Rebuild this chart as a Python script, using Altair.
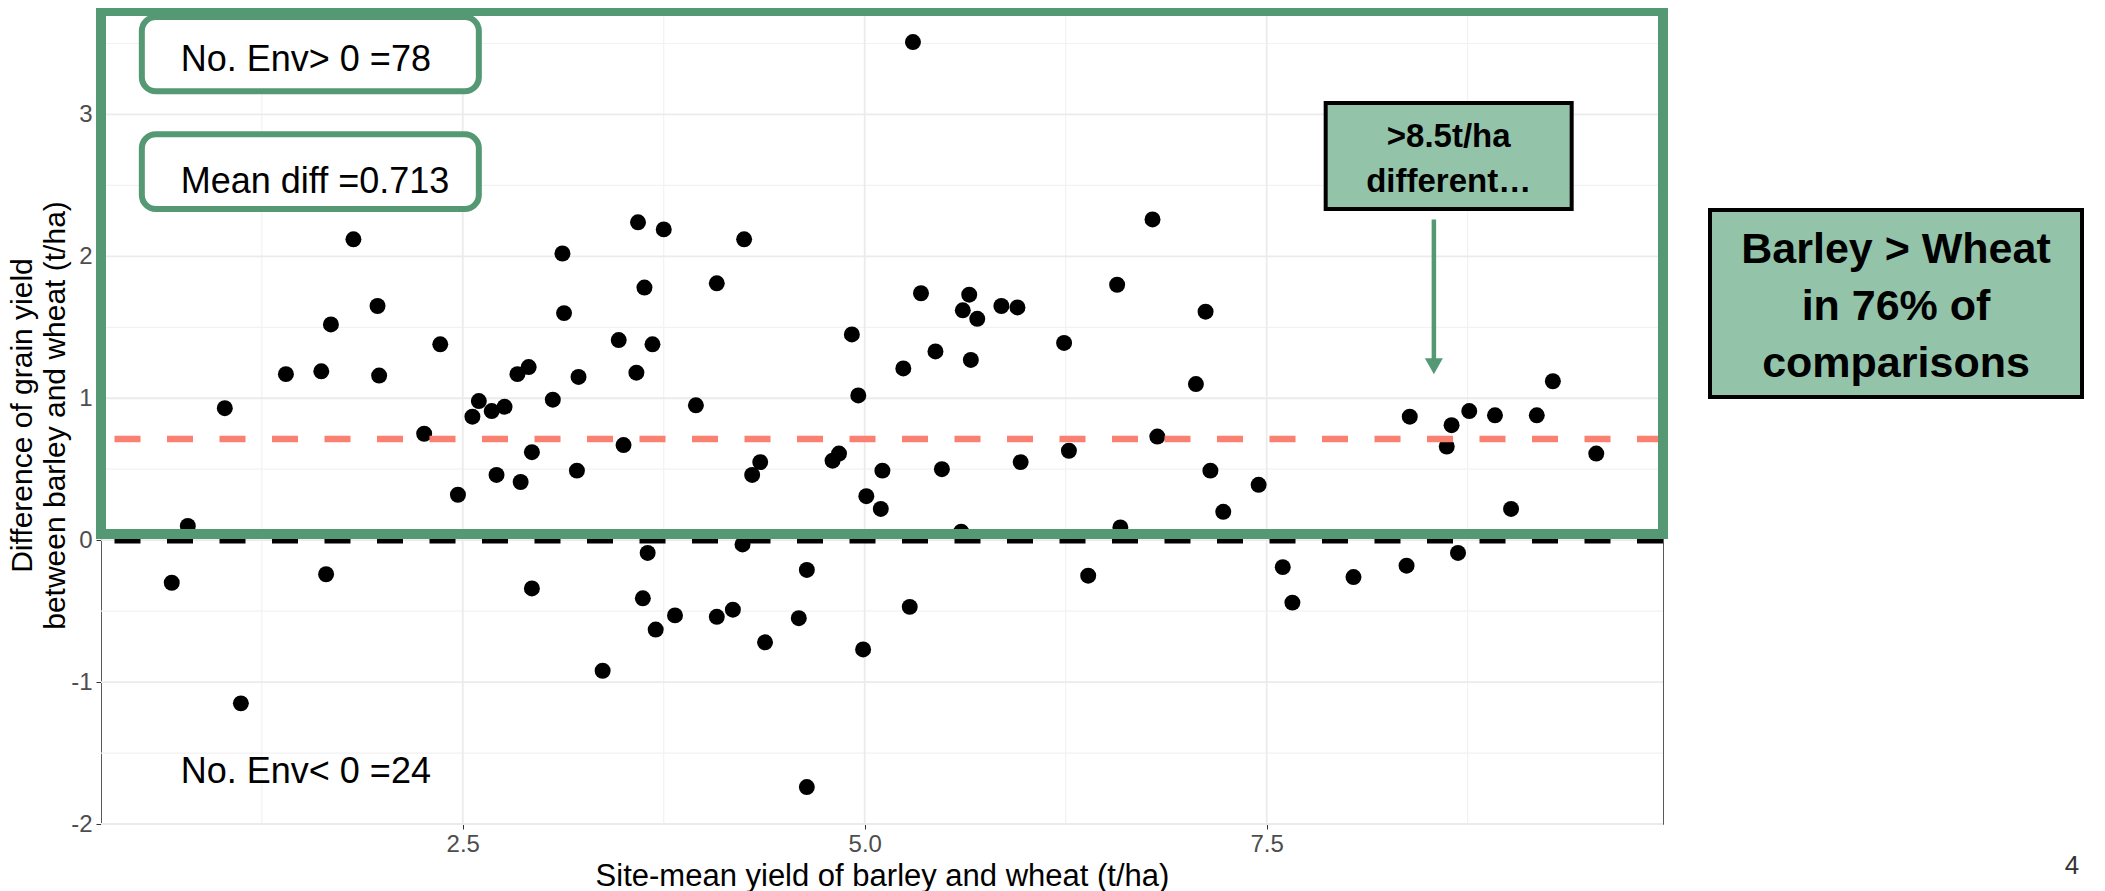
import altair as alt
import pandas as pd

# ---------------- data ----------------
site_mean = [
    0.79, 1.02, 1.40, 1.62, 1.68, 1.82, 1.97, 1.98, 2.26, 2.36,
    2.47, 2.56, 2.60, 2.68, 2.71, 2.76, 2.84, 2.86, 2.91, 2.93,
    3.06, 3.12, 3.13, 3.21, 3.22, 3.47, 3.50, 3.58, 3.59, 3.63,
    3.68, 3.75, 3.95, 4.08, 4.25, 4.30, 4.35, 4.80, 4.84, 4.92,
    4.96, 5.01, 5.10, 5.11, 5.24, 5.30, 5.35, 5.44, 5.48, 5.60,
    5.61, 5.65, 5.66, 5.70, 5.85, 5.95, 5.97, 6.24, 6.27, 6.57,
    6.59, 6.79, 6.82, 7.06, 7.12, 7.15, 7.23, 7.45, 8.39, 8.62,
    8.65, 8.76, 8.92, 9.02, 9.18, 9.28, 9.55,
    0.69, 1.12, 1.65, 2.93, 3.37, 3.62, 3.65, 3.70, 3.82, 4.08,
    4.18, 4.24, 4.38, 4.59, 4.64, 4.64, 4.99, 5.28, 6.39, 7.60,
    7.66, 8.04, 8.37, 8.69,
]
yield_diff = [
    0.10, 0.93, 1.17, 1.19, 1.52, 2.12, 1.65, 1.16, 0.75, 1.38,
    0.32, 0.87, 0.98, 0.91, 0.46, 0.94, 1.17, 0.41, 1.22, 0.62,
    0.99, 2.02, 1.60, 0.49, 1.15, 1.41, 0.67, 1.18, 2.24, 1.78,
    1.38, 2.19, 0.95, 1.81, 2.12, 0.46, 0.55, 0.56, 0.61, 1.45,
    1.02, 0.31, 0.22, 0.49, 1.21, 3.51, 1.74, 1.33, 0.50, 0.06,
    1.62, 1.73, 1.27, 1.56, 1.65, 1.64, 0.55, 1.39, 0.63, 1.80,
    0.09, 2.26, 0.73, 1.10, 1.61, 0.49, 0.20, 0.39, 0.87, 0.66,
    0.81, 0.91, 0.88, 0.22, 0.88, 1.12, 0.61,
    -0.30, -1.15, -0.24, -0.34, -0.92, -0.41, -0.09, -0.63, -0.53, -0.54,
    -0.49, -0.03, -0.72, -0.55, -0.21, -1.74, -0.77, -0.47, -0.25, -0.19,
    -0.44, -0.26, -0.18, -0.09,
]

mean_diff = 0.713
n_pos = 78
n_neg = 24

x_major = [2.5, 5.0, 7.5]
x_minor = [1.25, 3.75, 6.25, 8.75]
y_major = [-2, -1, 0, 1, 2, 3]
y_minor = [-1.5, -0.5, 0.5, 1.5, 2.5, 3.5]

x_title = "Site-mean yield of barley and wheat (t/ha)"
y_title = ["Difference of grain yield", "between barley and wheat (t/ha)"]
callout_text = ">8.5t/ha\ndifferent\u2026"
summary_text = "Barley > Wheat\nin 76% of\ncomparisons"
page_no = "4"

# ---------------- styling ----------------
X_DOMAIN = [0.25, 9.965]
Y_DOMAIN = [-2.0, 3.75]
W, H = 1562, 816
FONT = "Liberation Sans"
GREEN = "#549874"
LIGHT = "#93C4AA"

xscale = alt.Scale(domain=X_DOMAIN, nice=False, zero=False)
yscale = alt.Scale(domain=Y_DOMAIN, nice=False, zero=False)

xaxis = alt.Axis(
    values=x_major, labelExpr="format(datum.value, '.1f')", grid=False, domain=False,
    tickColor="#333333", tickSize=5, tickWidth=1,
    labelFont=FONT, labelFontSize=24, labelColor="#4D4D4D", labelPadding=3,
    title=x_title, titleFont=FONT, titleFontSize=31, titleFontWeight="normal",
    titleColor="#000000", titleX=W / 2, titleY=61, titleAlign="center",
    titleBaseline="alphabetic",
)
yaxis = alt.Axis(
    values=y_major, labelExpr="'' + datum.value", grid=False, domain=False,
    tickColor="#333333", tickSize=5, tickWidth=1,
    labelFont=FONT, labelFontSize=24, labelColor="#4D4D4D", labelPadding=4,
    title=y_title, titleFont=FONT, titleFontSize=30, titleFontWeight="normal",
    titleColor="#000000", titleAngle=270, titleX=-70, titleY=407,
    titleAlign="center", titleBaseline="alphabetic", titleLineHeight=33,
)


def ex(f):
    return alt.X(f + ":Q", scale=xscale, axis=xaxis)


def ey(f):
    return alt.Y(f + ":Q", scale=yscale, axis=yaxis)


pts = pd.DataFrame({"x": site_mean, "y": yield_diff})
one = pd.DataFrame({"a": [0]})

grid_x_minor = alt.Chart(pd.DataFrame({"x": x_minor})).mark_rule(
    color="#F2F2F2", strokeWidth=1.2).encode(x=ex("x"))
grid_y_minor = alt.Chart(pd.DataFrame({"y": y_minor})).mark_rule(
    color="#F2F2F2", strokeWidth=1.2).encode(y=ey("y"))
grid_x_major = alt.Chart(pd.DataFrame({"x": x_major})).mark_rule(
    color="#EBEBEB", strokeWidth=1.8).encode(x=ex("x"))
grid_y_major = alt.Chart(pd.DataFrame({"y": y_major})).mark_rule(
    color="#EBEBEB", strokeWidth=1.8).encode(y=ey("y"))

points = alt.Chart(pts).mark_circle(size=255, color="black", opacity=1).encode(
    x=ex("x"), y=ey("y"))

zero_line = alt.Chart(pd.DataFrame({"y": [0]})).mark_rule(
    color="black", strokeWidth=6.5, strokeDash=[26, 26.5]).encode(y=ey("y"))
mean_line = alt.Chart(pd.DataFrame({"y": [mean_diff]})).mark_rule(
    color="#FA8072", strokeWidth=6.5, strokeDash=[26, 26.5]).encode(y=ey("y"))

neg_text = alt.Chart(pd.DataFrame({"x": [0.746], "y": [-1.712],
                                   "t": [f"No. Env< 0 ={n_neg}"]})).mark_text(
    align="left", baseline="alphabetic", font=FONT, fontSize=36, color="black"
).encode(x=ex("x"), y=ey("y"), text="t:N")

frame = alt.Chart(one).mark_rect(fillOpacity=0, stroke=GREEN, strokeWidth=10).encode(
    x=alt.value(0), x2=alt.value(W), y=alt.value(0), y2=alt.value(526))
frame_top = alt.Chart(one).mark_rect(color=GREEN).encode(
    x=alt.value(-5), x2=alt.value(W + 5), y=alt.value(0), y2=alt.value(8))

boxes = alt.Chart(pd.DataFrame({
    "x1": [0.504, 0.504], "x2": [2.600, 2.600],
    "y1": [3.164, 2.333], "y2": [3.686, 2.861]})).mark_rect(
    fill="white", stroke=GREEN, strokeWidth=6, cornerRadius=14).encode(
    x=ex("x1"), x2="x2:Q", y=ey("y1"), y2="y2:Q")
box_text = alt.Chart(pd.DataFrame({
    "x": [0.746, 0.746], "y": [3.305, 2.445],
    "t": [f"No. Env> 0 ={n_pos}", f"Mean diff ={mean_diff}"]})).mark_text(
    align="left", baseline="alphabetic", font=FONT, fontSize=36, color="black"
).encode(x=ex("x"), y=ey("y"), text="t:N")

callout_box = alt.Chart(pd.DataFrame({
    "x1": [7.867], "x2": [9.397], "y1": [2.333], "y2": [3.080]})).mark_rect(
    fill=LIGHT, stroke="black", strokeWidth=4).encode(
    x=ex("x1"), x2="x2:Q", y=ey("y1"), y2="y2:Q")
callout = alt.Chart(pd.DataFrame({"x": [8.632], "y": [2.772], "t": [callout_text]})).mark_text(
    align="center", baseline="alphabetic", font=FONT, fontSize=33, fontWeight="bold",
    lineBreak="\n", lineHeight=45, color="black").encode(x=ex("x"), y=ey("y"), text="t:N")
arrow = alt.Chart(pd.DataFrame({"x": [8.54], "y1": [2.26], "y2": [1.23]})).mark_rule(
    color=GREEN, strokeWidth=4.5).encode(x=ex("x"), y=ey("y1"), y2="y2:Q")
arrow_head = alt.Chart(pd.DataFrame({"x": [8.54], "y": [1.226]})).mark_point(
    shape="M-1,-0.89L1,-0.89L0,0.89Z", filled=True, size=324, color=GREEN, opacity=1
).encode(x=ex("x"), y=ey("y"))

summary_box = alt.Chart(one).mark_rect(fill=LIGHT, stroke="black", strokeWidth=4).encode(
    x=alt.value(1609), x2=alt.value(1981), y=alt.value(202), y2=alt.value(389))
summary = alt.Chart(one).mark_text(
    align="center", baseline="alphabetic", font=FONT, fontSize=43, fontWeight="bold",
    lineBreak="\n", lineHeight=57, color="black").encode(
    x=alt.value(1795), y=alt.value(255), text=alt.value(summary_text))

page = alt.Chart(one).mark_text(
    align="center", baseline="alphabetic", font=FONT, fontSize=26, color="#333333").encode(
    x=alt.value(1971), y=alt.value(866), text=alt.value(page_no))

chart = alt.layer(
    grid_x_minor, grid_y_minor, grid_x_major, grid_y_major,
    points, zero_line, mean_line, neg_text,
    frame, frame_top, boxes, box_text,
    callout_box, callout, arrow, arrow_head,
    summary_box, summary, page,
).properties(
    width=W, height=H,
    padding={"left": 93, "top": 0, "right": 430, "bottom": 67},
    autosize=alt.AutoSizeParams(type="none"),
    background="white",
).configure_view(stroke="#595959", strokeWidth=1)

chart.save("out.html", embed_options={"renderer": "svg", "actions": False})
